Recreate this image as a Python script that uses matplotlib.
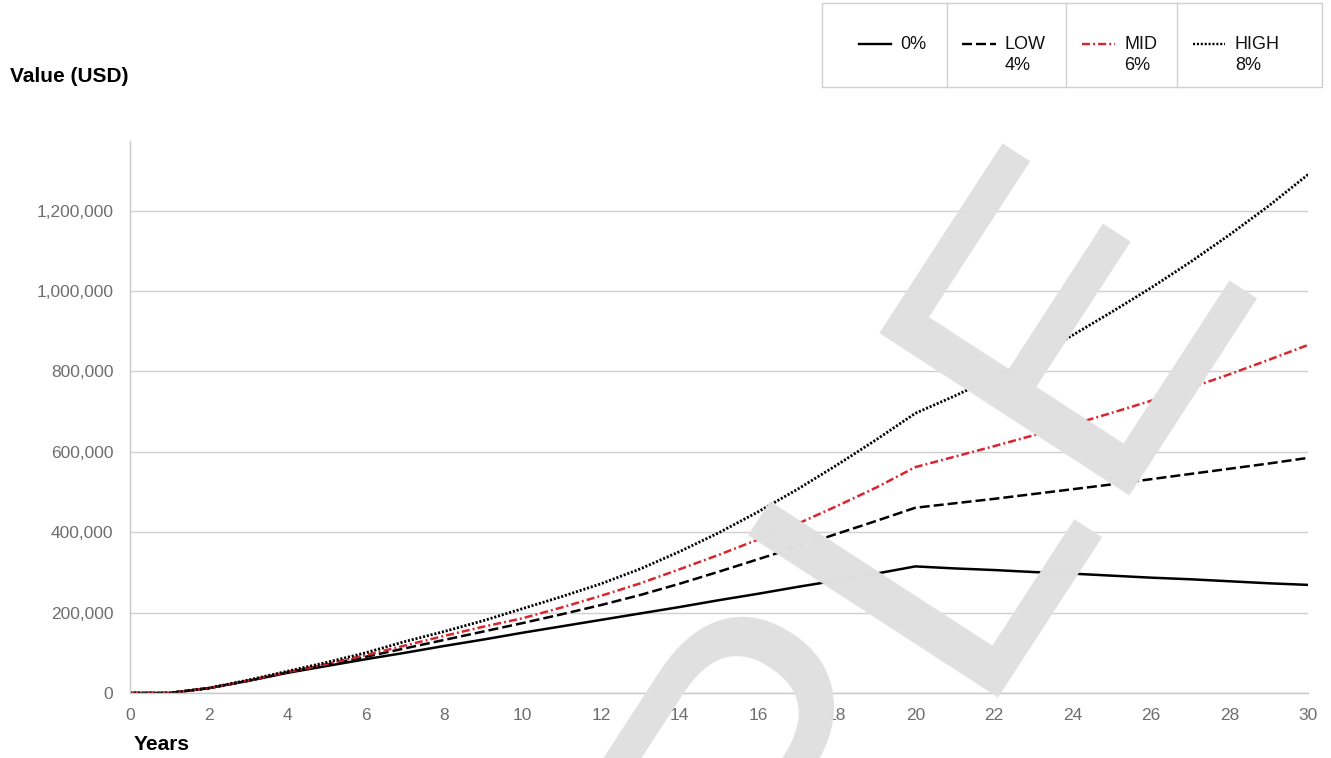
import matplotlib.pyplot as plt
from matplotlib.lines import Line2D
from matplotlib.patches import Rectangle
from matplotlib.ticker import FuncFormatter

plt.rcParams['font.family'] = ['Liberation Sans', 'DejaVu Sans']
plt.rcParams['lines.scale_dashes'] = False

W, H = 1331, 758

years = list(range(31))

# portfolio value per year, USD
value_0 = [0, 0, 12000, 30000, 50000, 67000, 84000, 100000, 117000, 133000,
           150000, 166000, 182000, 198000, 214000, 231000, 247000, 264000, 280000, 297000,
           315000, 310000, 306000, 301000, 297000, 292000, 287000, 283000, 278000, 273000,
           269000]
value_low = [0, 0, 12000, 30000, 51000, 70000, 90000, 111000, 132000, 153000,
             174000, 196000, 219000, 244000, 272000, 302000, 333000, 364000, 396000, 428000,
             461000, 472000, 483000, 495000, 507000, 519000, 532000, 545000, 558000, 571000,
             585000]
value_mid = [0, 0, 12000, 31000, 52000, 72000, 94000, 118000, 142000, 165000,
             186000, 213000, 242000, 273000, 308000, 344000, 382000, 421000, 465000, 511000,
             562000, 588000, 614000, 641000, 668000, 697000, 727000, 759000, 793000, 829000,
             866000]
value_high = [0, 0, 12000, 32000, 54000, 76000, 100000, 128000, 153000, 180000,
              210000, 240000, 272000, 309000, 352000, 399000, 451000, 507000, 567000, 630000,
              696000, 739000, 785000, 835000, 890000, 948000, 1008000, 1072000, 1140000, 1212000,
              1290000]

series_labels = ['0%', 'LOW\n4%', 'MID\n6%', 'HIGH\n8%']
x_ticks = list(range(0, 31, 2))
y_ticks = [0, 200000, 400000, 600000, 800000, 1000000, 1200000]

styles = [
    dict(color='black', linestyle='-'),
    dict(color='black', linestyle=(0, (7.2, 2.9))),
    dict(color='#d9252f', linestyle=(0, (5.8, 2.2, 1.4, 2.2))),
    dict(color='black', linestyle=(0, (1.5, 1.3))),
]
widths = [1.8, 1.8, 1.8, 2.0]


def px(x, y):
    return x / W, 1 - y / H


fig = plt.figure(figsize=(W / 100, H / 100), dpi=100)
ax = fig.add_axes([130 / W, 1 - 693 / H, (1308 - 130) / W, (693 - 141) / H])

for vals, st, lw in zip([value_0, value_low, value_mid, value_high], styles, widths):
    ax.plot(years, vals, lw=lw, dash_capstyle='butt', **st)

ax.set_xlim(0, 30)
ax.set_ylim(0, 1373500)
ax.set_xticks(x_ticks)
ax.set_yticks(y_ticks)
ax.yaxis.set_major_formatter(FuncFormatter(lambda v, p: f'{int(v):,}'))
ax.tick_params(axis='both', length=0, labelsize=12.5, labelcolor='#6e6e6e')
ax.tick_params(axis='y', pad=12)
ax.tick_params(axis='x', pad=10.5)
ax.grid(axis='y', color='#d0d0d0', lw=1)
ax.set_axisbelow(True)
for side in ['top', 'right']:
    ax.spines[side].set_visible(False)
for side in ['left', 'bottom']:
    ax.spines[side].set_color('#c8c8c8')
    ax.spines[side].set_linewidth(1)

fig.text(*px(10, 77), 'Value (USD)', fontsize=15, fontweight='bold', va='center', ha='left')
fig.text(*px(134, 745), 'Years', fontsize=15, fontweight='bold', va='center', ha='left')

# legend box with one cell per series
x0, y0 = px(822, 87)
x1, y1 = px(1322, 3)
fig.add_artist(Rectangle((x0, y0), x1 - x0, y1 - y0, transform=fig.transFigure,
                         fill=False, edgecolor='#d0d0d0', lw=1))
for xd in [947, 1066, 1177]:
    fig.add_artist(Line2D([xd / W, xd / W], [y0, y1], transform=fig.transFigure,
                          color='#d0d0d0', lw=1))
sample_x = [(859, 891), (962, 996), (1082, 1115), (1193, 1225)]
text_x = [900, 1005, 1124, 1235]
for (sa, sb), tx, lab, st in zip(sample_x, text_x, series_labels, styles):
    fig.add_artist(Line2D([sa / W, sb / W], [px(0, 44)[1]] * 2, transform=fig.transFigure,
                          lw=1.7, dash_capstyle='butt', **st))
    fig.text(tx / W, px(0, 36)[1], lab, fontsize=13, color='#111111',
             va='top', ha='left', linespacing=1.3)

# watermark
fig.text(302 / W, -982 / H, 'SAMPLE', fontsize=312, color='#e0e0e0', rotation=57,
         rotation_mode='anchor', ha='left', va='baseline', zorder=10)

fig.savefig('out.png', dpi=100)
